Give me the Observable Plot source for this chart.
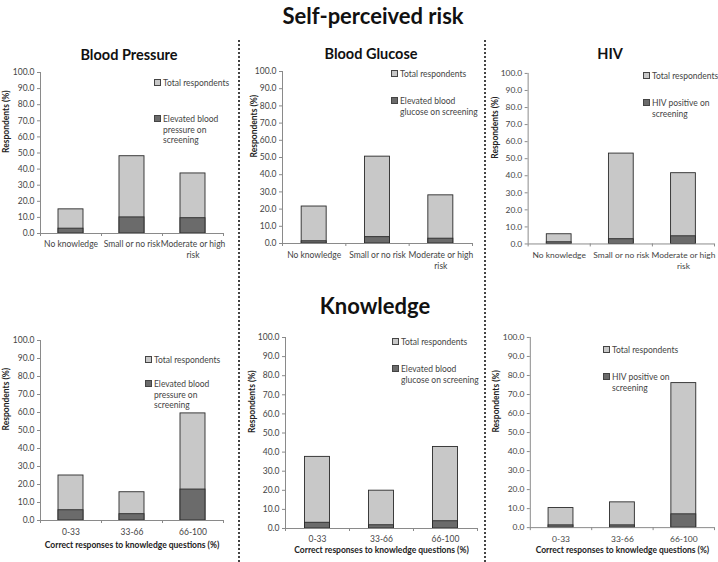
<!DOCTYPE html>
<html>
<head>
<meta charset="utf-8">
<script src="https://cdn.jsdelivr.net/npm/d3@7"></script>
<script src="https://cdn.jsdelivr.net/npm/@observablehq/plot@0.6"></script>
<style>
  html, body { margin: 0; padding: 0; background: #fff; }
  #page { position: relative; width: 718px; height: 562px; font-family: Lato, "Open Sans", sans-serif; overflow: hidden; }
  .abs { position: absolute; }
  .section { font-weight: bold; font-size: 22px; color: #111; transform: translate(-50%, -50%); white-space: nowrap; }
  .ptitle { font-weight: bold; font-size: 14.5px; color: #111; transform: translate(-50%, -50%); white-space: nowrap; }
  .dots { border-left: 2px dotted #444; width: 0; }
  .leg { font-size: 8.5px; line-height: 10.5px; color: #444; white-space: pre; }
  .sw { display: inline-block; width: 5px; height: 5px; border: 1px solid #444; margin-right: 2px; vertical-align: 0px; }
</style>
</head>
<body>
<div id="page"></div>
<script>
// ---------- data ----------
const riskCategories = ["No knowledge", "Small or no risk", "Moderate or high risk"];
const knowCategories = ["0-33", "33-66", "66-100"];

const bpRiskTotal = [15.0, 48.0, 37.3];
const bpRiskPositive = [3.0, 10.0, 9.5];
const bgRiskTotal = [21.5, 50.5, 28.0];
const bgRiskPositive = [1.3, 3.7, 2.8];
const hivRiskTotal = [5.7, 53.0, 41.5];
const hivRiskPositive = [1.0, 2.8, 4.5];

const bpKnowTotal = [25.0, 15.7, 59.5];
const bpKnowPositive = [5.7, 3.5, 17.2];
const bgKnowTotal = [37.5, 19.8, 42.7];
const bgKnowPositive = [3.0, 1.7, 3.8];
const hivKnowTotal = [10.3, 13.3, 76.0];
const hivKnowPositive = [1.2, 1.2, 7.0];

const yTicks = [0, 10, 20, 30, 40, 50, 60, 70, 80, 90, 100];
const totalLabel = "Total respondents";
const bpLabel = "Elevated blood\npressure on\nscreening";
const bgLabel = "Elevated blood\nglucose on screening";
const hivLabel = "HIV positive on\nscreening";
const yLabel = "Respondents (%)";
const xLabelKnow = "Correct responses to knowledge questions (%)";
const sectionTitles = ["Self-perceived risk", "Knowledge"];
const panelTitles = ["Blood Pressure", "Blood Glucose", "HIV"];

// ---------- layout (page pixels) ----------
const panels = [
  {cats: riskCategories, total: bpRiskTotal, pos: bpRiskPositive, posLabel: bpLabel,
   ax: 40, axEnd: 223, y100: 72, y0: 233, ylOff: 34, tickPad: 6, xTitle: null,
   leg: [[154, 78], [154, 114]]},
  {cats: riskCategories, total: bgRiskTotal, pos: bgRiskPositive, posLabel: bgLabel,
   ax: 282, axEnd: 472, y100: 71, y0: 243, ylOff: 28, tickPad: 7, xTitle: null,
   leg: [[391, 69], [391, 96]]},
  {cats: riskCategories, total: hivRiskTotal, pos: hivRiskPositive, posLabel: hivLabel,
   ax: 528, axEnd: 716, y100: 73, y0: 245, ylOff: 33, tickPad: 7, xTitle: null,
   leg: [[643, 71], [643, 98]]},
  {cats: knowCategories, total: bpKnowTotal, pos: bpKnowPositive, posLabel: bpLabel,
   ax: 40, axEnd: 223, y100: 340, y0: 520, ylOff: 34, tickPad: 7, xTitle: xLabelKnow, xtOff: 27,
   leg: [[145, 355], [145, 379]]},
  {cats: knowCategories, total: bgKnowTotal, pos: bgKnowPositive, posLabel: bgLabel,
   ax: 285, axEnd: 477, y100: 337, y0: 528, ylOff: 33, tickPad: 6, xTitle: xLabelKnow, xtOff: 24,
   leg: [[392, 337], [392, 364]]},
  {cats: knowCategories, total: hivKnowTotal, pos: hivKnowPositive, posLabel: hivLabel,
   ax: 530, axEnd: 715, y100: 337, y0: 528, ylOff: 34, tickPad: 7, xTitle: xLabelKnow, xtOff: 25,
   leg: [[603, 345], [603, 372]]}
];

const page = document.getElementById("page");
function addDiv(cls, text, x, y, extra) {
  const d = document.createElement("div");
  d.className = "abs " + cls;
  if (text != null) d.textContent = text;
  d.style.left = x + "px";
  d.style.top = y + "px";
  if (extra) Object.assign(d.style, extra);
  page.appendChild(d);
  return d;
}

function wrap(s) {
  if (s.length <= 16) return s;
  const i = s.lastIndexOf(" ", 16);
  return s.slice(0, i) + "\n" + s.slice(i + 1);
}

const fill1 = "#c8c8c8", fill2 = "#6b6b6b", barStroke = "#2a2a2a", axisColor = "#8a8a8a";

panels.forEach(p => {
  const mL = 44, mR = 4, mT = 8, mB = 44;
  const fw = p.axEnd - p.ax, fh = p.y0 - p.y100;
  const data = p.cats.map((c, i) => ({i, total: p.total[i], pos: p.pos[i]}));
  const n = p.cats.length;
  const bandW = fw / n;
  const inset = (bandW - 25) / 2;
  const marks = [
    Plot.rectY(data, {x1: d => d.i, x2: d => d.i + 1, y1: 0, y2: "total", fill: fill1, stroke: barStroke, strokeWidth: 0.9, insetLeft: inset, insetRight: inset}),
    Plot.rectY(data, {x1: d => d.i, x2: d => d.i + 1, y1: 0, y2: "pos", fill: fill2, stroke: barStroke, strokeWidth: 0.9, insetLeft: inset, insetRight: inset}),
    Plot.axisY({ticks: yTicks, tickFormat: d => d.toFixed(1), tickSize: 3, tickPadding: 3, stroke: axisColor, fill: "#444", label: null}),
    Plot.axisX({ticks: d3.range(n + 1), tickFormat: () => "", tickSize: 3, stroke: axisColor, label: null}),
    Plot.axisX({ticks: d3.range(n).map(i => i + 0.5), tickFormat: v => wrap(p.cats[Math.floor(v)]), tickSize: 0, tickPadding: p.tickPad, fill: "#444", label: null, lineHeight: 1.25}),
    Plot.ruleX([0], {stroke: axisColor}),
    Plot.ruleY([0], {stroke: axisColor}),
    Plot.text([yLabel], {text: d => d, frameAnchor: "left", rotate: -90, dx: -p.ylOff, fontWeight: "bold", fontSize: 8.5, fill: "#222"})
  ];
  if (p.xTitle) {
    marks.push(Plot.text([p.xTitle], {text: d => d, frameAnchor: "bottom", dy: p.xtOff, fontWeight: "bold", fontSize: 8.5, fill: "#222"}));
  }
  const chart = Plot.plot({
    width: fw + mL + mR,
    height: fh + mT + mB,
    marginLeft: mL, marginRight: mR, marginTop: mT, marginBottom: mB,
    x: {type: "linear", domain: [0, n]},
    y: {domain: [0, 100]},
    style: {fontFamily: "Lato, 'Open Sans', sans-serif", fontSize: "8.5px", background: "transparent", overflow: "visible"},
    marks
  });
  const holder = addDiv("", null, p.ax - mL, p.y100 - mT);
  holder.appendChild(chart);

  // legend
  const l1 = addDiv("leg", null, p.leg[0][0], p.leg[0][1]);
  l1.innerHTML = `<span class="sw" style="background:${fill1}"></span>`;
  l1.appendChild(document.createTextNode(totalLabel));
  const lines = p.posLabel.split("\n");
  const l2 = addDiv("leg", null, p.leg[1][0], p.leg[1][1]);
  l2.innerHTML = `<span class="sw" style="background:${fill2}"></span>`;
  l2.appendChild(document.createTextNode(lines[0]));
  lines.slice(1).forEach(t => {
    const br = document.createElement("div");
    br.style.paddingLeft = "9px";
    br.textContent = t;
    l2.appendChild(br);
  });
});

// titles and separators
addDiv("section", sectionTitles[0], 373, 15);
addDiv("section", sectionTitles[1], 375, 305);
addDiv("ptitle", panelTitles[0], 129, 54);
addDiv("ptitle", panelTitles[1], 371, 53);
addDiv("ptitle", panelTitles[2], 610, 53);
addDiv("dots", null, 238, 40, {height: "522px"});
addDiv("dots", null, 484, 40, {height: "522px"});
</script>
</body>
</html>
